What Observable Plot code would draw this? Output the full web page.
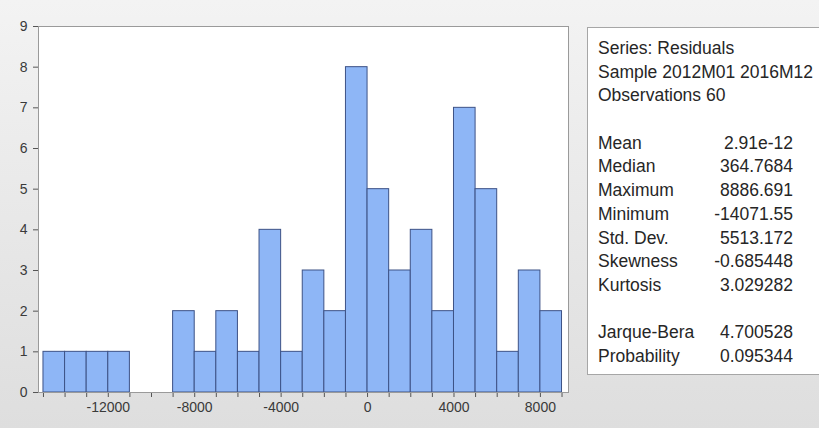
<!DOCTYPE html>
<html>
<head>
<meta charset="utf-8">
<script src="https://cdn.jsdelivr.net/npm/d3@7"></script>
<script src="https://cdn.jsdelivr.net/npm/@observablehq/plot@0.6"></script>
<style>
  html, body { margin: 0; padding: 0; }
  body {
    width: 819px; height: 428px; overflow: hidden; position: relative;
    background: linear-gradient(#f3f3f3, #e6e6e6 60%, #dedede);
    font-family: "Liberation Sans", Arial, sans-serif;
  }
  #chart { position: absolute; left: 0; top: 0; }
  #stats {
    position: absolute; left: 587px; top: 27px; width: 240px; height: 348px;
    background: #fff; border: 1px solid #a6a6a6; box-sizing: border-box;
    padding-top: 9px; color: #262626; font-size: 17.5px;
  }
  .row { position: relative; height: 23.7px; line-height: 23.7px; white-space: nowrap; }
  .lab { position: absolute; left: 10px; }
  .val { position: absolute; right: 33px; text-align: right; }
</style>
</head>
<body>
<div id="chart"></div>
<div id="stats"></div>
<script>
// Histogram data (bins of width 1000)
const binStart = [-15000,-14000,-13000,-12000,-11000,-10000,-9000,-8000,-7000,-6000,-5000,-4000,
                  -3000,-2000,-1000,0,1000,2000,3000,4000,5000,6000,7000,8000];
const counts   = [1,1,1,1,0,0,2,1,2,1,4,1,3,2,8,5,3,4,2,7,5,1,3,2];
const binWidth = 1000;

// Axis ticks
const xTickMarks = [-15000,-14000,-13000,-12000,-11000,-10000,-9000,-8000,-7000,-6000,-5000,-4000,
                    -3000,-2000,-1000,0,1000,2000,3000,4000,5000,6000,7000,8000,9000];
const xTickLabels = [-12000,-8000,-4000,0,4000,8000];
const yTicks = [0,1,2,3,4,5,6,7,8,9];

// Statistics panel
const headerLines = ["Series: Residuals", "Sample 2012M01 2016M12", "Observations 60"];
const statLabels = ["Mean","Median","Maximum","Minimum","Std. Dev.","Skewness","Kurtosis"];
const statValues = ["2.91e-12","364.7684","8886.691","-14071.55","5513.172","-0.685448","3.029282"];
const testLabels = ["Jarque-Bera","Probability"];
const testValues = ["4.700528","0.095344"];

const rows = binStart.map((x0, i) => ({x0, x1: x0 + binWidth, count: counts[i]})).filter(d => d.count > 0);

const chart = Plot.plot({
  width: 575,
  height: 428,
  marginLeft: 38,
  marginRight: 7,
  marginTop: 26,
  marginBottom: 36,
  style: {background: "transparent", fontFamily: "'Liberation Sans', Arial, sans-serif", fontSize: "14px", color: "#3a3a3a"},
  x: {domain: [-15230, 9300]},
  y: {domain: [0, 9]},
  marks: [
    Plot.frame({fill: "white", stroke: "none"}),
    Plot.rectY(rows, {x1: "x0", x2: "x1", y: "count", fill: "#8eb6f6", stroke: "#3d5286", strokeWidth: 1, inset: 0}),
    Plot.axisX({ticks: xTickMarks, tickSize: 5, tickPadding: 5, stroke: "#555", label: null,
                tickFormat: d => xTickLabels.includes(d) ? String(d) : "", fontSize: 14}),
    Plot.axisY({ticks: yTicks, tickSize: 5, tickPadding: 6, stroke: "#555", label: null,
                tickFormat: d => String(d), fontSize: 14}),
    Plot.frame({stroke: "#9a9a9a", strokeWidth: 1})
  ]
});
document.getElementById("chart").appendChild(chart);

const stats = document.getElementById("stats");
function addRow(label, value) {
  const r = document.createElement("div");
  r.className = "row";
  if (label !== null) {
    const l = document.createElement("span"); l.className = "lab"; l.textContent = label; r.appendChild(l);
  }
  if (value !== null) {
    const v = document.createElement("span"); v.className = "val"; v.textContent = value; r.appendChild(v);
  }
  stats.appendChild(r);
}
headerLines.forEach(h => addRow(h, null));
addRow(null, null);
statLabels.forEach((l, i) => addRow(l, statValues[i]));
addRow(null, null);
testLabels.forEach((l, i) => addRow(l, testValues[i]));
</script>
</body>
</html>
